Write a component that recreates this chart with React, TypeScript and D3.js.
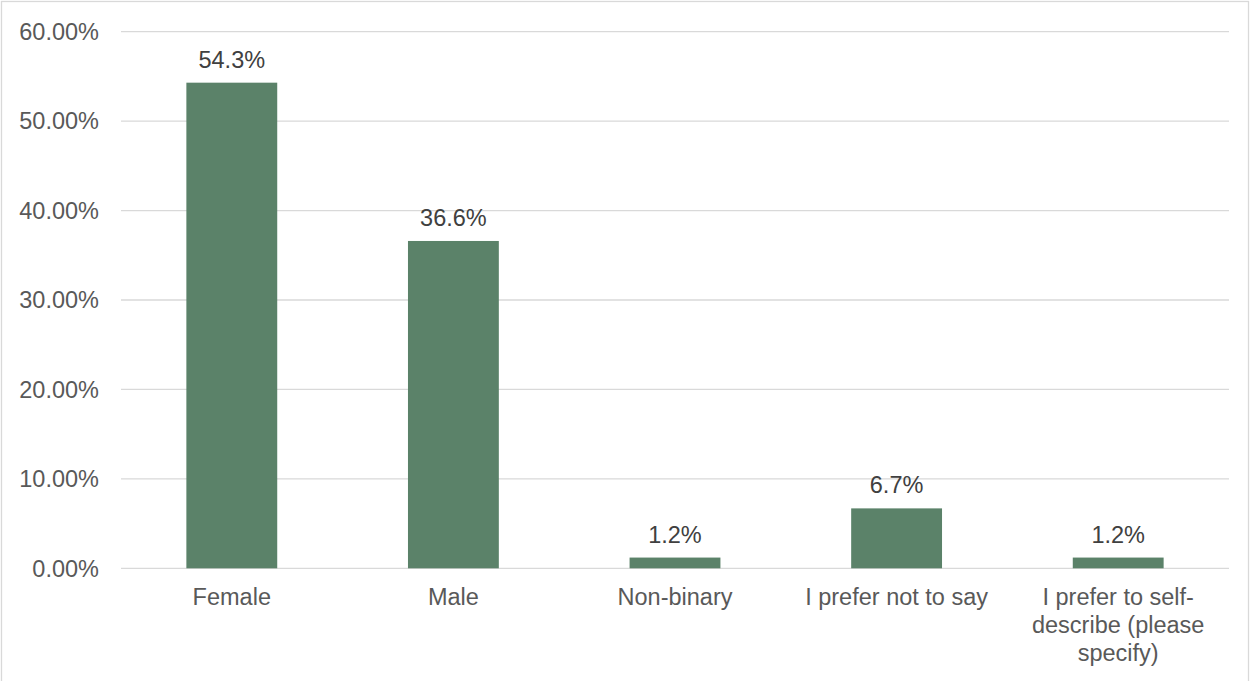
import React from "react";
import * as d3 from "d3";

const categories: string[] = [
  "Female",
  "Male",
  "Non-binary",
  "I prefer not to say",
  "I prefer to self-describe (please specify)",
];
const values: number[] = [0.543, 0.366, 0.012, 0.067, 0.012];
const valueLabels: string[] = ["54.3%", "36.6%", "1.2%", "6.7%", "1.2%"];
const yTicks: number[] = [0, 0.1, 0.2, 0.3, 0.4, 0.5, 0.6];

const W = 1258;
const H = 681;
const FONT = "'Liberation Sans', Arial, sans-serif";
const FS = 23.5;

let ctx: CanvasRenderingContext2D | null = null;
function measure(s: string): number {
  if (!ctx) {
    const c = document.createElement("canvas");
    ctx = c.getContext("2d");
  }
  if (!ctx) return s.length * FS * 0.5;
  ctx.font = `${FS}px ${FONT}`;
  return ctx.measureText(s).width;
}

function wrap(text: string, maxW: number): string[] {
  const tokens = text.match(/[^\s-]+-?|-/g) || [];
  const lines: string[] = [];
  let cur = "";
  for (const t of tokens) {
    const sep = cur === "" || cur.endsWith("-") ? "" : " ";
    const cand = cur + sep + t;
    if (cur !== "" && measure(cand) > maxW) {
      lines.push(cur);
      cur = t;
    } else {
      cur = cand;
    }
  }
  if (cur) lines.push(cur);
  return lines;
}

export default function App() {
  const left = 121;
  const right = 1229;
  const top = 31.7;
  const bottom = 568.3;

  const x = d3
    .scaleBand<string>()
    .domain(categories)
    .range([left, right])
    .paddingInner(0.59)
    .paddingOuter(0.295);
  const y = d3.scaleLinear().domain([0, 0.6]).range([bottom, top]);
  const fmt = d3.format(".2%");
  const step = x.step();

  return (
    <svg
      width={W}
      height={H}
      style={{ position: "absolute", left: 0, top: 0, background: "#fff" }}
      fontFamily={FONT}
    >
      <rect x={0} y={0} width={W} height={H} fill="#fff" />
      <rect
        x={1.5}
        y={1.5}
        width={1247}
        height={700}
        fill="none"
        stroke="#D9D9D9"
        strokeWidth={1.3}
      />
      {yTicks.map((t) => (
        <g key={t}>
          <line
            x1={left}
            x2={right}
            y1={y(t)}
            y2={y(t)}
            stroke="#D9D9D9"
            strokeWidth={1.3}
          />
          <text
            x={99}
            y={y(t)}
            dy="0.35em"
            textAnchor="end"
            fontSize={FS}
            fill="#595959"
          >
            {fmt(t)}
          </text>
        </g>
      ))}
      {categories.map((c, i) => {
        const bx = x(c) as number;
        const cx = bx + x.bandwidth() / 2;
        const lines = wrap(c, step - 20);
        return (
          <g key={c}>
            <rect
              x={bx}
              y={y(values[i])}
              width={x.bandwidth()}
              height={y(0) - y(values[i])}
              fill="#5B8269"
            />
            <text
              x={cx}
              y={y(values[i]) - 15}
              textAnchor="middle"
              fontSize={FS}
              fill="#404040"
            >
              {valueLabels[i]}
            </text>
            <text x={cx} y={bottom + 37} textAnchor="middle" fontSize={FS} fill="#595959">
              {lines.map((l, j) => (
                <tspan key={j} x={cx} dy={j === 0 ? 0 : 28}>
                  {l}
                </tspan>
              ))}
            </text>
          </g>
        );
      })}
    </svg>
  );
}
